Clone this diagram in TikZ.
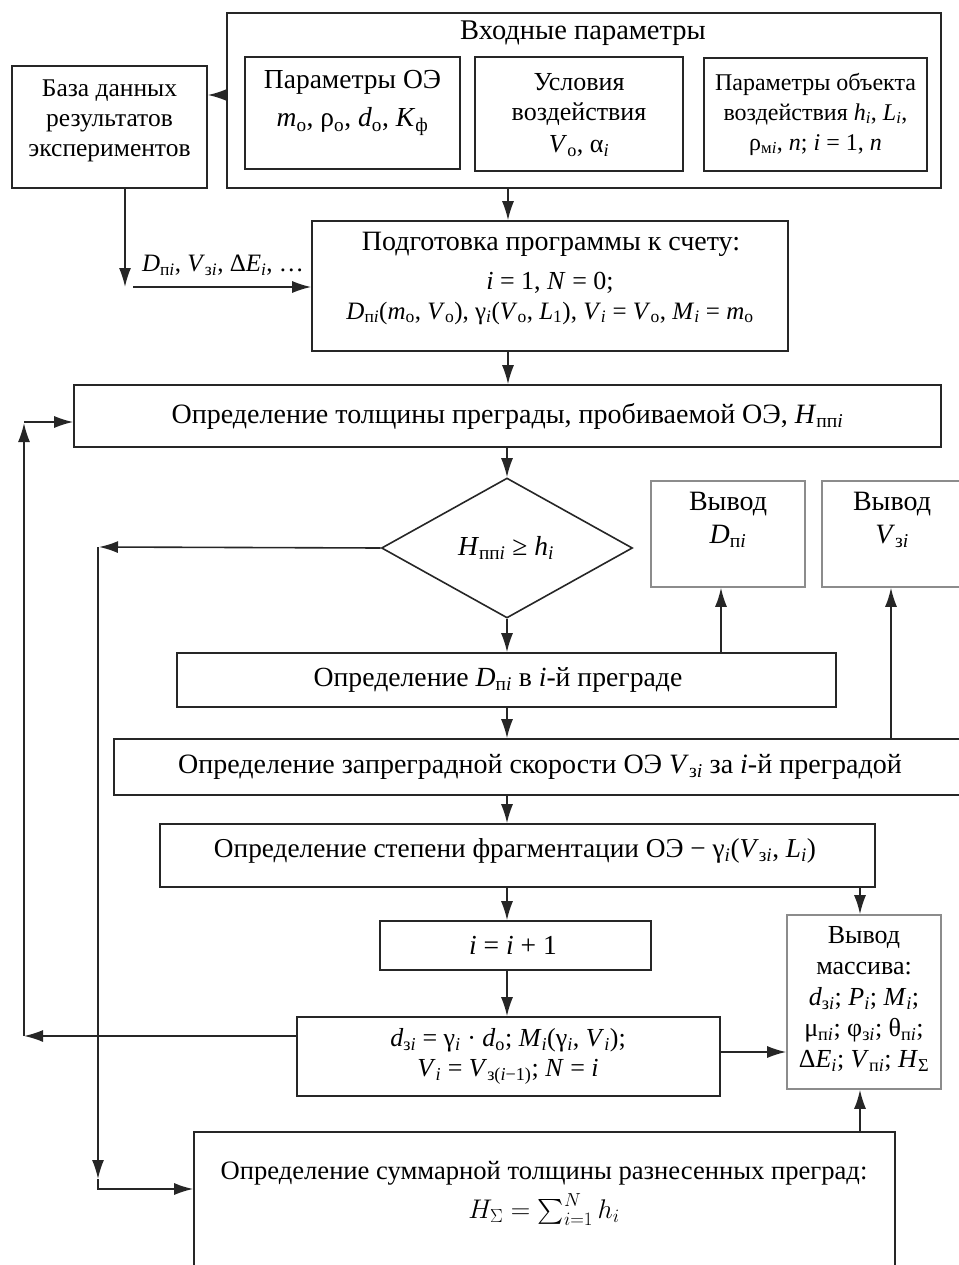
\RequirePackage{fix-cm}
\documentclass[tikz,border=0pt]{standalone}
\usepackage{amsmath}
\usepackage{fontspec}
\setmainfont{Liberation Serif}
\usetikzlibrary{shapes.geometric,arrows.meta}
\newcommand\sbs[1]{\textsubscript{#1}}
\newcommand\vi{\textit{i}}
\newcommand\mysi{\textsubscript{\textit{i}}}
\begin{document}
\begin{tikzpicture}[x=1pt,y=-1pt,
  txt/.style={font=\fontsize{25}{30}\selectfont, align=center, inner sep=0pt},
  fs/.style={font=\fontsize{#1}{30}\selectfont},
  box/.style={draw=black!85, line width=1.6pt, inner sep=0pt},
  gbox/.style={draw=black!45, line width=1.6pt, inner sep=0pt},
  arr/.style={line width=1.6pt, draw=black!85, -{Latex[length=19pt,width=12pt]}},
  ln/.style={line width=1.6pt, draw=black!85}]
\useasboundingbox (0,0) rectangle (958,1265);

% --- input block
\node[box, minimum width=714pt, minimum height=175pt] (outer) at (584,100.5) {};
\node[txt, fs=28.5] (ttl) at (583,33) {Входные параметры};
\node[box, minimum width=215pt, minimum height=112pt] (b1) at (352.5,113) {};
\node[txt, fs=27.5] (t1) at (352.5,103) {Параметры ОЭ\\[8pt]\textit{m}\sbs{о}, ρ\sbs{о}, \textit{d}\sbs{о}, \textit{K}\sbs{ф}};
\node[box, minimum width=208pt, minimum height=114pt] (b2) at (579,114) {};
\node[txt, fs=26] (t2) at (579,115) {Условия\\воздействия\\[2pt]\textit{V}\sbs{о}, α\mysi};
\node[box, minimum width=223pt, minimum height=113pt] (b3) at (815.5,114.5) {};
\node[txt, fs=24] (t3) at (815.5,114) {Параметры объекта\\воздействия \textit{h}\mysi, \textit{L}\mysi,\\ρ\sbs{м\vi}, \textit{n}; \textit{i} = 1, \textit{n}};

% --- database
\node[box, minimum width=195pt, minimum height=122pt] (db) at (109.5,127) {};
\node[txt, fs=25.5] (tdb) at (109.5,121) {База данных\\результатов\\экспериментов};

% --- preparation
\node[box, minimum width=476pt, minimum height=130pt] (prep) at (550,286) {};
\node[txt, fs=28] (tp1) at (551,244) {Подготовка программы к счету:};
\node[txt, fs=26] (tp2) at (550,283) {\textit{i} = 1, \textit{N} = 0;};
\node[txt] (tp3) at (550,313) {\textit{D}\sbs{п\vi}(\textit{m}\sbs{о}, \textit{V}\sbs{о}), γ\mysi(\textit{V}\sbs{о}, \textit{L}\sbs{1}), \textit{V}\mysi{} = \textit{V}\sbs{о}, \textit{M}\mysi{} = \textit{m}\sbs{о}};
\node[txt] (lbl) at (223,265) {\textit{D}\sbs{п\vi}, \textit{V}\sbs{з\vi}, Δ\textit{E}\mysi, …};

% --- main chain
\node[box, minimum width=867pt, minimum height=62pt] (hbox) at (507.5,416) {};
\node[txt, fs=28] (th) at (507.5,416) {Определение толщины преграды, пробиваемой ОЭ, \textit{H}\sbs{пп\vi}};
\node[diamond, draw=black!85, line width=1.6pt, minimum width=251pt, minimum height=140pt, inner sep=0pt] (dia) at (507,548) {};
\node[txt, fs=27.5] (tdia) at (506,548) {\textit{H}\sbs{пп\vi} ≥ \textit{h}\mysi};

\node[gbox, minimum width=154pt, minimum height=106pt] (outD) at (728,534) {};
\node[txt, fs=28] (toD) at (728,520) {Вывод\\[3pt]\textit{D}\sbs{п\vi}};
\node[gbox, minimum width=140pt, minimum height=106pt] (outV) at (892,534) {};
\node[txt, fs=28] (toV) at (892,520) {Вывод\\[3pt]\textit{V}\sbs{з\vi}};

\node[box, minimum width=659pt, minimum height=54pt] (dbox) at (506.5,680) {};
\node[txt, fs=27.7] (td) at (498,680) {Определение \textit{D}\sbs{п\vi} в \textit{i}-й преграде};
\node[box, minimum width=852pt, minimum height=56pt] (vbox) at (540,767) {};
\node[txt, fs=28] (tv) at (540,767) {Определение запреградной скорости ОЭ \textit{V}\sbs{з\vi} за \textit{i}-й преградой};
\node[box, minimum width=715pt, minimum height=63pt] (fbox) at (517.5,855.5) {};
\node[txt, fs=27.3] (tf) at (515,851) {Определение степени фрагментации ОЭ − γ\mysi(\textit{V}\sbs{з\vi}, \textit{L}\mysi)};
\node[box, minimum width=271pt, minimum height=49pt] (inc) at (515.5,945.5) {};
\node[txt, fs=27.5] (ti) at (513,945) {\textit{i} = \textit{i} + 1};
\node[box, minimum width=423pt, minimum height=79pt] (dz) at (508.5,1056.5) {};
\node[txt, fs=26] (tz) at (508,1056) {\textit{d}\sbs{з\vi} = γ\mysi{} · \textit{d}\sbs{о}; \textit{M}\mysi(γ\mysi, \textit{V}\mysi);\\\textit{V}\mysi{} = \textit{V}\sbs{з(\vi−1)}; \textit{N} = \textit{i}};
\node[gbox, minimum width=154pt, minimum height=174pt] (mas) at (864,1002) {};
\node[txt, font=\fontsize{26}{31}\selectfont] (tm) at (864,999) {Вывод\\массива:\\\textit{d}\sbs{з\vi}; \textit{P}\mysi; \textit{M}\mysi;\\μ\sbs{п\vi}; φ\sbs{з\vi}; θ\sbs{п\vi};\\Δ\textit{E}\mysi; \textit{V}\sbs{п\vi}; \textit{H}\sbs{Σ}};
\node[box, minimum width=701pt, minimum height=180pt] (bot) at (544.5,1222) {};
\node[txt, fs=26.6] (tb) at (544,1193) {Определение суммарной толщины разнесенных преград:\\[8pt]{\fontsize{27}{30}\selectfont$H_{\Sigma} = \sum\nolimits_{i=1}^{N} h_i$}};

% --- coordinates
\coordinate (c1) at (125,287);
\coordinate (c2) at (133,287);
\coordinate (xa) at (508,0);
\coordinate (xd) at (721,0);
\coordinate (xv) at (891,0);
\coordinate (xm) at (860,0);
\coordinate (y95) at (0,95);
\coordinate (L1) at (24,1036);
\coordinate (L2) at (24,423);
\coordinate (L3) at (24,422);
\coordinate (R1) at (99,547);
\coordinate (R2) at (98,1179);
\coordinate (R3) at (98,1189);

% --- connectors
\draw[arr] (outer.west |- y95) -- (db.east |- y95);
\draw[arr] (db.south -| c1) -- (c1);
\draw[arr] (c2) -- (prep.west |- c2);
\draw[arr] (outer.south -| xa) -- (prep.north -| xa);
\draw[arr] (prep.south -| xa) -- (hbox.north -| xa);
\draw[arr] (hbox.south -| dia) -- (dia.north);
\draw[arr] (dia.south) -- (dbox.north -| dia);
\draw[arr] (dbox.south -| dia) -- (vbox.north -| dia);
\draw[arr] (vbox.south -| dia) -- (fbox.north -| dia);
\draw[arr] (fbox.south -| dia) -- (inc.north -| dia);
\draw[arr] (inc.south -| dia) -- (dz.north -| dia);
\draw[arr] (dbox.north -| xd) -- (outD.south -| xd);
\draw[arr] (vbox.north -| xv) -- (outV.south -| xv);
\draw[arr] (fbox.south -| xm) -- (mas.north -| xm);
\draw[arr] (dz.east |- 0,1052) -- (mas.west |- 0,1052);
\draw[arr] (bot.north -| xm) -- (mas.south -| xm);
\draw[arr] (dz.west |- L1) -- (L1);
\draw[arr] (L1) -- (L2);
\draw[arr] (L3) -- (hbox.west |- L3);
\draw[arr] (dia.west) -- (R1);
\draw[arr] (R1 -| R2) -- (R2);
\draw[arr] (R2) -- (R3) -- (bot.west |- R3);
\end{tikzpicture}
\end{document}
